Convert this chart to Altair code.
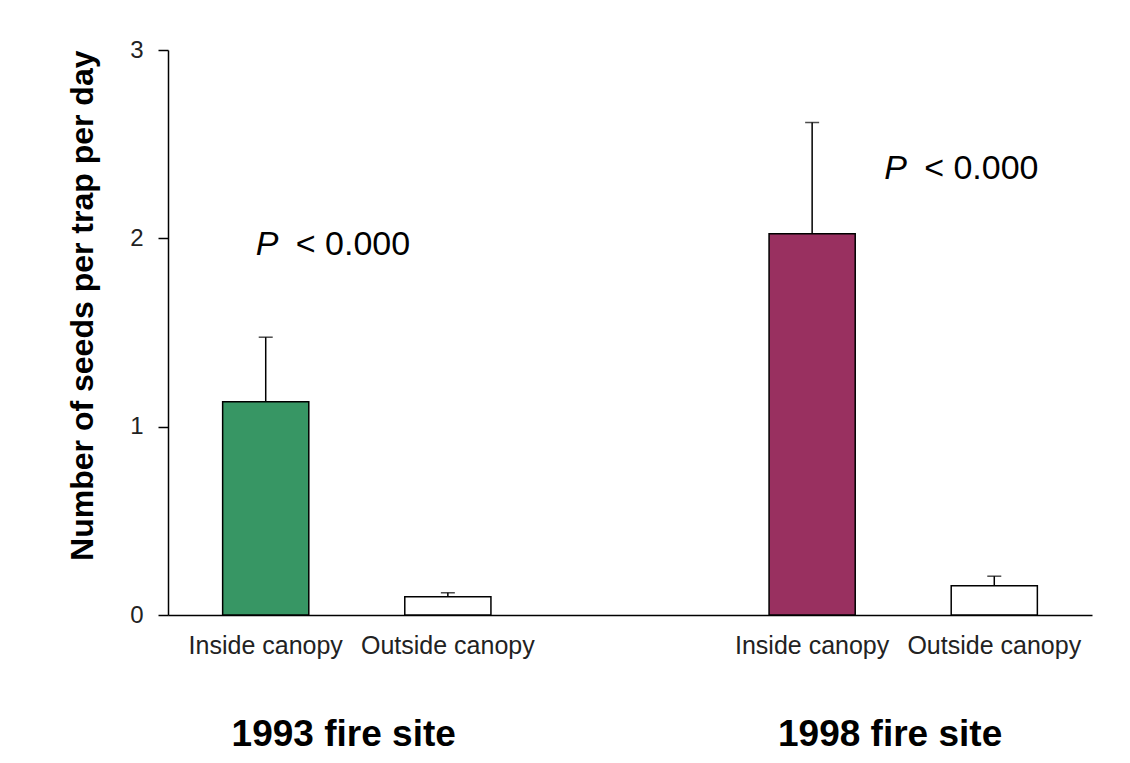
import altair as alt
import pandas as pd

# ---- data ----
slots = ["i93", "o93", "gap", "i98", "o98"]
slot_labels = ["Inside canopy", "Outside canopy", "", "Inside canopy", "Outside canopy"]
bar_slots = ["i93", "o93", "i98", "o98"]
means = [1.132, 0.097, 2.025, 0.155]
upper = [1.475, 0.118, 2.615, 0.206]
fills = ["#379664", "#ffffff", "#993060", "#ffffff"]
sites = ["1993 fire site", "1998 fire site"]
site_anchor = ["i93", "i98"]
p_anchor = ["i93", "i98"]
p_y = [1.965, 2.37]
p_rest = ["< 0.000", "< 0.000"]

FONT = "Liberation Sans"
W, H = 924, 565

bars_df = pd.DataFrame({"slot": bar_slots, "mean": means, "upper": upper})

label_expr = ""
for s, l in zip(slots, slot_labels):
    label_expr += f"datum.value === '{s}' ? '{l}' : "
label_expr += "''"

xenc = alt.X(
    "slot:N",
    scale=alt.Scale(domain=slots, paddingInner=0.527, paddingOuter=0.3),
    axis=alt.Axis(
        title=None, labelExpr=label_expr, ticks=False, labelAngle=0,
        labelFontSize=25, labelFont=FONT, labelColor="#222222", labelPadding=18,
        domainColor="black", domainWidth=1.5,
    ),
)
yscale = alt.Scale(domain=[0, 3], nice=False)
yenc = alt.Y(
    "mean:Q",
    scale=yscale,
    axis=alt.Axis(
        values=[0, 1, 2, 3], format="d", grid=False, tickSize=10, tickColor="black",
        tickWidth=1.5,
        labelFontSize=24, labelFont=FONT, labelColor="#222222", labelPadding=15,
        domainColor="black", domainWidth=1.5,
        title="Number of seeds per trap per day", titleFont=FONT, titleFontSize=32,
        titleFontWeight="bold", titleColor="black", titlePadding=30, titleAnchor="end",
    ),
)

base = alt.Chart(bars_df)
bars = base.mark_bar(stroke="black", strokeWidth=1.5).encode(
    x=xenc,
    y=yenc,
    color=alt.Color("slot:N", scale=alt.Scale(domain=bar_slots, range=fills), legend=None),
)
err = base.mark_rule(color="black", strokeWidth=1.5).encode(
    x=alt.X("slot:N"), y=alt.Y("mean:Q"), y2="upper:Q"
)
caps = base.mark_tick(color="black", thickness=1.5, size=14).encode(
    x=alt.X("slot:N"), y=alt.Y("upper:Q")
)

layers = [bars, err, caps]

# P annotations
p_dx = [-10, 72]
for a, yv, rest, dx in zip(p_anchor, p_y, p_rest, p_dx):
    adf = pd.DataFrame({"slot": [a], "y": [yv], "t": [rest]})
    layers.append(
        alt.Chart(adf).mark_text(
            text="P", font=FONT, fontSize=34, fontStyle="italic", align="left",
            baseline="middle", dx=dx, color="black",
        ).encode(x="slot:N", y="y:Q")
    )
    layers.append(
        alt.Chart(adf).mark_text(
            font=FONT, fontSize=34, align="left", baseline="middle", dx=dx + 40,
            color="black",
        ).encode(x="slot:N", y="y:Q", text="t:N")
    )

sites_df = pd.DataFrame({"slot": site_anchor, "t": sites})
layers.append(
    alt.Chart(sites_df).mark_text(
        font=FONT, fontSize=37, fontWeight="bold", align="center", baseline="middle",
        dx=78, color="black",
    ).encode(x="slot:N", y=alt.value(H + 120), text="t:N")
)

chart = alt.layer(*layers).properties(
    width=W, height=H,
    padding={"left": 58, "top": 30, "right": 5, "bottom": 5},
    background="white",
).configure_view(stroke=None)

chart.save("out.html", embed_options={"renderer": "svg", "actions": False})
